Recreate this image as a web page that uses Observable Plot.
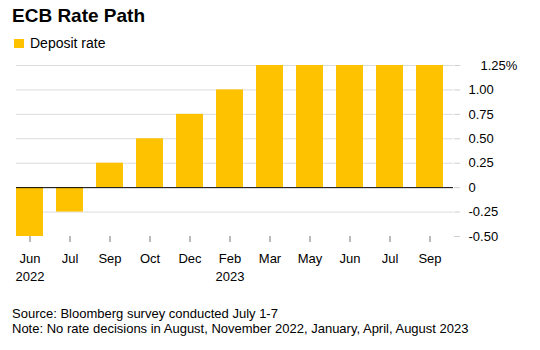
<!DOCTYPE html>
<html>
<head>
<meta charset="utf-8">
<script src="https://cdn.jsdelivr.net/npm/d3@7"></script>
<script src="https://cdn.jsdelivr.net/npm/@observablehq/plot@0.6"></script>
<style>
  body { margin: 0; background: #fff; font-family: "Liberation Sans", Arial, sans-serif; color: #000; }
  #wrap { position: relative; width: 540px; height: 350px; }
  .abs { position: absolute; white-space: nowrap; }
  #title { left: 12px; top: 6px; font-size: 19px; line-height: 19px; font-weight: bold; }
  #legend { left: 14px; top: 37px; font-size: 14px; line-height: 14px; }
  #legend .sw { position: absolute; left: 0; top: 2px; width: 10px; height: 9px; background: #ffc200; }
  #legend .lt { position: absolute; left: 16px; top: -1px; }
  #chart { left: 0; top: 55px; }
  #foot { left: 12px; top: 306px; font-size: 13px; line-height: 15px; }
</style>
</head>
<body>
<div id="wrap">
  <div id="title" class="abs">ECB Rate Path</div>
  <div id="legend" class="abs"><span class="sw"></span><span class="lt">Deposit rate</span></div>
  <div id="chart" class="abs"></div>
  <div id="foot" class="abs">Source: Bloomberg survey conducted July 1-7<br>Note: No rate decisions in August, November 2022, January, April, August 2023</div>
</div>
<script>
const keys = ["Jun 2022","Jul 2022","Sep 2022","Oct 2022","Dec 2022","Feb 2023","Mar 2023","May 2023","Jun 2023","Jul 2023","Sep 2023"];
const xLabels = ["Jun\n2022","Jul","Sep","Oct","Dec","Feb\n2023","Mar","May","Jun","Jul","Sep"];
const depositRate = [-0.5,-0.25,0.25,0.5,0.75,1.0,1.25,1.25,1.25,1.25,1.25];
const yTicks = [-0.5,-0.25,0,0.25,0.5,0.75,1.0,1.25];
const yTickLabels = ["-0.50","-0.25","0","0.25","0.50","0.75","1.00","1.25%"];

const data = keys.map((k, i) => ({key: k, value: depositRate[i]}));
const labelOf = Object.fromEntries(keys.map((k, i) => [k, xLabels[i]]));
const yLabelOf = new Map(yTicks.map((t, i) => [t, yTickLabels[i]]));
const yellow = "#ffc200";

const chart = Plot.plot({
  width: 540,
  height: 230,
  marginTop: 10,
  marginBottom: 49,
  marginLeft: 16,
  marginRight: 87,
  style: {fontFamily: "'Liberation Sans', Arial, sans-serif", fontSize: "13px", color: "#000", background: "#fff"},
  x: {domain: keys, paddingInner: 0.33, paddingOuter: 0.09, align: 0, axis: null},
  y: {domain: [-0.5, 1.25], axis: null},
  marks: [
    Plot.gridY(yTicks.filter(t => t > -0.5 && t !== 0), {stroke: "#dcdcdc", strokeOpacity: 1}),
    Plot.barY(data, {x: "key", y: "value", fill: yellow}),
    Plot.ruleY([0], {stroke: "#000", strokeWidth: 1}),
    Plot.axisY(yTicks.filter(t => t !== 1.25), {anchor: "right", label: null, tickSize: 6, tickPadding: 9, stroke: "#cfcfcf", strokeOpacity: 1, fill: "#000", tickFormat: t => yLabelOf.get(t)}),
    Plot.axisY([1.25], {anchor: "right", label: null, tickSize: 6, tickPadding: 21, stroke: "#cfcfcf", strokeOpacity: 1, fill: "#000", tickFormat: t => yLabelOf.get(t)}),
    Plot.axisX(keys, {anchor: "bottom", label: null, tickSize: 6, tickPadding: 8, stroke: "#777", fill: "#000", lineHeight: 1.35, tickFormat: k => labelOf[k]})
  ]
});
document.getElementById("chart").appendChild(chart);
</script>
</body>
</html>
